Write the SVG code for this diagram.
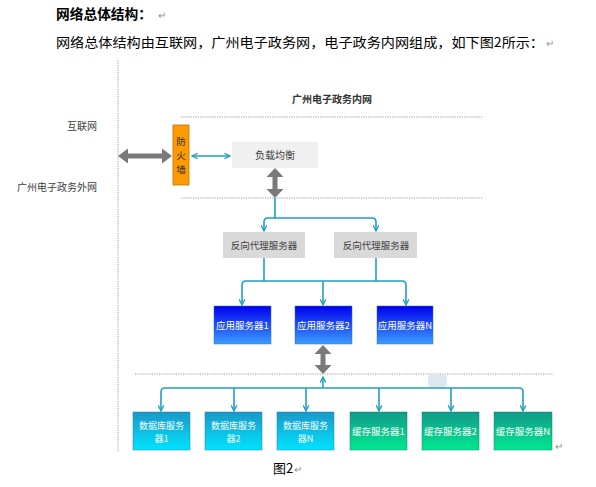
<svg xmlns="http://www.w3.org/2000/svg" width="596" height="487" viewBox="0 0 596 487">
<style>
.t{font-family:"Noto Sans CJK SC","Liberation Sans",sans-serif;}
.lbl{font-size:10px;fill:#404040;}
.wt{font-size:9.5px;fill:#ffffff;text-anchor:middle;}
.w2{font-size:9px;fill:#ffffff;text-anchor:middle;}
.dk{font-size:9.5px;fill:#404040;text-anchor:middle;}
.dot{stroke:#9a9a9a;stroke-width:1;stroke-dasharray:1.2,1.2;fill:none;}
.cy{stroke:#1f9fc4;stroke-width:1.6;fill:none;stroke-linejoin:round;}
.ga{fill:#7a7a7a;}
.pm{font-size:10px;fill:#909090;}
</style>
<defs>
<linearGradient id="gApp" x1="0" y1="0" x2="0" y2="1"><stop offset="0" stop-color="#0000ee"/><stop offset="1" stop-color="#3b9cff"/></linearGradient>
<linearGradient id="gDb" x1="0" y1="0" x2="0" y2="1"><stop offset="0" stop-color="#1a98c6"/><stop offset="1" stop-color="#00e4ff"/></linearGradient>
<linearGradient id="gCa" x1="0" y1="0" x2="0" y2="1"><stop offset="0" stop-color="#13998a"/><stop offset="1" stop-color="#00e98e"/></linearGradient>
<marker id="ah" viewBox="0 0 10 10" refX="9" refY="5" markerWidth="7" markerHeight="7" markerUnits="userSpaceOnUse" orient="auto-start-reverse">
<path d="M1,1 L9,5 L1,9" fill="none" stroke="#1f9fc4" stroke-width="1.8"/>
</marker>
</defs>

<!-- page text -->
<text class="t" x="56" y="19" font-size="13.5" font-weight="bold" fill="#000" textLength="96" lengthAdjust="spacingAndGlyphs">网络总体结构：</text>
<text class="t pm" x="158" y="19">↵</text>
<text class="t" x="56" y="47" font-size="13" fill="#000" textLength="488" lengthAdjust="spacingAndGlyphs">网络总体结构由互联网，广州电子政务网，电子政务内网组成，如下图2所示：</text>
<text class="t pm" x="546" y="47">↵</text>

<!-- guide lines -->
<line class="dot" x1="118" y1="60" x2="118" y2="452"/>
<line class="dot" x1="181" y1="117" x2="483" y2="117"/>
<line class="dot" x1="181" y1="198" x2="483" y2="198"/>
<line class="dot" x1="135" y1="374" x2="553" y2="374"/>

<text class="t" x="332" y="103" font-size="10" font-weight="bold" fill="#333" text-anchor="middle">广州电子政务内网</text>
<text class="t lbl" x="97" y="130" text-anchor="end">互联网</text>
<text class="t lbl" x="97" y="191" text-anchor="end">广州电子政务外网</text>

<rect x="428" y="375" width="19" height="12" rx="3" fill="#dde7ef"/>

<!-- connectors -->
<g id="connectors">
<polygon class="ga" points="118,156 128,148.5 128,153.5 162,153.5 162,148.5 172,156 162,163.5 162,158.5 128,158.5 128,163.5"/>
<line class="cy" x1="192" y1="156" x2="230" y2="156" marker-start="url(#ah)" marker-end="url(#ah)"/>
<polygon class="ga" points="275,168 283.5,177 277.5,177 277.5,189 283.5,189 275,198 266.5,189 272.5,189 272.5,177 266.5,177"/>
<path class="cy" d="M275,198 V218 H268 Q264,218 264,222 V231" marker-end="url(#ah)"/>
<path class="cy" d="M275,218 H372 Q376,218 376,222 V231" marker-end="url(#ah)"/>
<path class="cy" d="M264,258 V281 H246 Q242,281 242,285 V305" marker-end="url(#ah)"/>
<path class="cy" d="M376,258 V281 H402 Q406,281 406,285 V305" marker-end="url(#ah)"/>
<path class="cy" d="M264,281 H376"/>
<path class="cy" d="M323,281 V305" marker-end="url(#ah)"/>
<polygon class="ga" points="323,345 331.5,354 325.5,354 325.5,365 331.5,365 323,374 314.5,365 320.5,365 320.5,354 314.5,354"/>
<path class="cy" d="M323,388 V377" marker-end="url(#ah)"/>
<path class="cy" d="M323,388 H165 Q161,388 161,392 V411" marker-end="url(#ah)"/>
<path class="cy" d="M323,388 H519 Q523,388 523,392 V411" marker-end="url(#ah)"/>
<path class="cy" d="M234,388 V411" marker-end="url(#ah)"/>
<path class="cy" d="M306,388 V411" marker-end="url(#ah)"/>
<path class="cy" d="M379,388 V411" marker-end="url(#ah)"/>
<path class="cy" d="M451,388 V411" marker-end="url(#ah)"/>
</g>

<!-- nodes -->
<g id="firewall">
<rect x="173" y="125" width="16" height="60" fill="#ff9a00" stroke="#c07000" stroke-width="0.8"/>
<text class="t" x="181" y="144.5" font-size="9.5" fill="#333" text-anchor="middle">防</text>
<text class="t" x="181" y="158.5" font-size="9.5" fill="#333" text-anchor="middle">火</text>
<text class="t" x="181" y="172.5" font-size="9.5" fill="#333" text-anchor="middle">墙</text>
</g>
<g id="lb">
<rect x="232" y="142" width="86" height="26" fill="#f0f0f0"/>
<text class="t lbl" x="275" y="158.5" text-anchor="middle">负载均衡</text>
</g>
<g id="proxy1">
<rect x="223" y="232" width="82" height="26" fill="#d9d9d9"/>
<text class="t dk" x="264" y="248.5">反向代理服务器</text>
</g>
<g id="proxy2">
<rect x="334" y="232" width="83" height="26" fill="#d9d9d9"/>
<text class="t dk" x="376" y="248.5">反向代理服务器</text>
</g>
<g id="app1">
<rect x="214" y="306" width="57" height="38" fill="url(#gApp)" stroke="#3a6fc0" stroke-width="0.5"/>
<text class="t wt" x="242.5" y="328.5">应用服务器1</text>
</g>
<g id="app2">
<rect x="295" y="306" width="57" height="38" fill="url(#gApp)" stroke="#3a6fc0" stroke-width="0.5"/>
<text class="t wt" x="323.5" y="328.5">应用服务器2</text>
</g>
<g id="appN">
<rect x="377" y="306" width="56" height="38" fill="url(#gApp)" stroke="#3a6fc0" stroke-width="0.5"/>
<text class="t wt" x="405" y="328.5">应用服务器N</text>
</g>
<g id="db1">
<rect x="133" y="412" width="57" height="38" fill="url(#gDb)" stroke="#2a7fa0" stroke-width="0.5"/>
<text class="t w2" x="161.5" y="429"><tspan x="161.5">数据库服务</tspan><tspan x="161.5" dy="13">器1</tspan></text>
</g>
<g id="db2">
<rect x="205" y="412" width="57" height="38" fill="url(#gDb)" stroke="#2a7fa0" stroke-width="0.5"/>
<text class="t w2" x="233.5" y="429"><tspan x="233.5">数据库服务</tspan><tspan x="233.5" dy="13">器2</tspan></text>
</g>
<g id="dbN">
<rect x="277" y="412" width="57" height="38" fill="url(#gDb)" stroke="#2a7fa0" stroke-width="0.5"/>
<text class="t w2" x="305.5" y="429"><tspan x="305.5">数据库服务</tspan><tspan x="305.5" dy="13">器N</tspan></text>
</g>
<g id="cache1">
<rect x="350" y="412" width="57" height="38" fill="url(#gCa)" stroke="#1a7f70" stroke-width="0.5"/>
<text class="t wt" x="378.5" y="435">缓存服务器1</text>
</g>
<g id="cache2">
<rect x="422" y="412" width="57" height="38" fill="url(#gCa)" stroke="#1a7f70" stroke-width="0.5"/>
<text class="t wt" x="450.5" y="435">缓存服务器2</text>
</g>
<g id="cacheN">
<rect x="494" y="412" width="58" height="38" fill="url(#gCa)" stroke="#1a7f70" stroke-width="0.5"/>
<text class="t wt" x="523" y="435">缓存服务器N</text>
</g>
<text class="t pm" x="555" y="450">↵</text>

<text class="t" x="273" y="473" font-size="13" fill="#000">图2</text>
<text class="t pm" x="294" y="473">↵</text>
</svg>
